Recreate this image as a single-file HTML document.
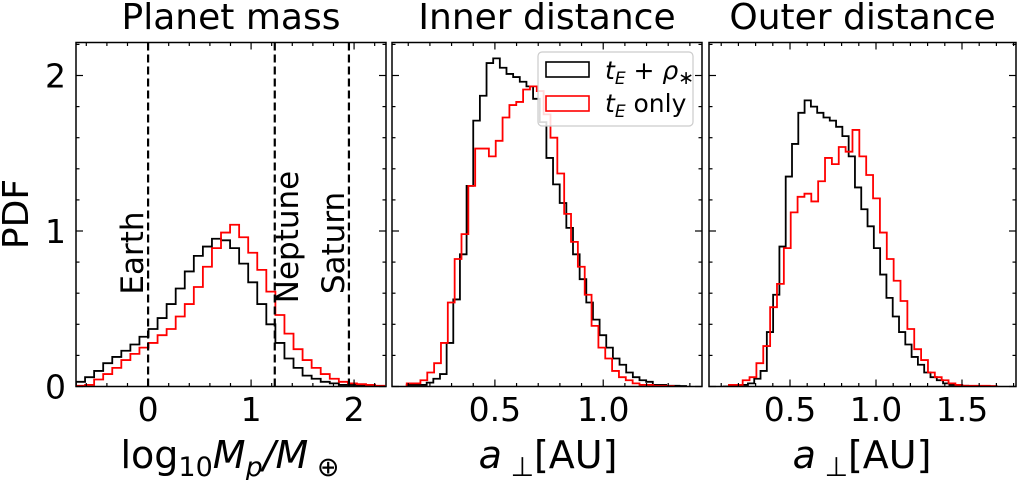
<!DOCTYPE html>
<html><head><meta charset="utf-8"><style>
html,body{margin:0;padding:0;background:#fff;}
svg{display:block;font-family:"DejaVu Sans","Liberation Sans",sans-serif;}
</style></head><body>
<svg id="fig" width="1021" height="480" viewBox="0 0 1021 480" xmlns="http://www.w3.org/2000/svg"></svg>
<script>
// ---- data ----
const massStart = -0.70, massWidth = 0.088;
const massRedStart = -0.70, massRedWidth = 0.088;
const massBlack = [0.03,0.06,0.10,0.15,0.19,0.23,0.27,0.32,0.37,0.44,0.53,0.63,0.74,0.84,0.90,0.95,0.94,0.89,0.79,0.67,0.53,0.40,0.28,0.18,0.12,0.07,0.05,0.03,0.02,0.01,0.01,0.005,0.005,0.003];
const massRed = [0.005,0.01,0.045,0.08,0.12,0.17,0.21,0.25,0.28,0.33,0.37,0.45,0.53,0.64,0.77,0.89,0.99,1.04,0.96,0.86,0.75,0.61,0.46,0.34,0.24,0.17,0.12,0.08,0.05,0.03,0.02,0.015,0.01,0.005];
const innerStart = 0.093, innerWidth = 0.0307;
const innerRedStart = 0.093, innerRedWidth = 0.0316;
const innerBlack = [0.01,0.01,0.01,0.025,0.05,0.08,0.28,0.56,0.85,1.29,1.71,1.87,2.08,2.11,2.05,2.01,1.99,1.96,1.93,1.85,1.70,1.47,1.30,1.18,1.02,0.85,0.69,0.54,0.43,0.33,0.25,0.18,0.14,0.09,0.06,0.04,0.03,0.01,0.01,0.005,0.005,0.003];
const innerRed = [0.02,0.02,0.04,0.09,0.15,0.28,0.54,0.82,0.98,1.29,1.53,1.53,1.48,1.58,1.73,1.81,1.83,1.91,1.93,1.90,1.75,1.60,1.37,1.11,0.93,0.77,0.59,0.39,0.25,0.18,0.10,0.06,0.04,0.02,0.01,0.01,0.005,0.005,0.003];
const outerStart = 0.109, outerWidth = 0.0366;
const outerRedStart = 0.145, outerRedWidth = 0.0399;
const outerBlack = [0,0.005,0.005,0.01,0.02,0.05,0.10,0.35,0.59,0.90,1.35,1.56,1.76,1.84,1.80,1.76,1.73,1.71,1.67,1.61,1.48,1.28,1.14,1.03,0.89,0.72,0.57,0.45,0.35,0.27,0.19,0.14,0.09,0.06,0.04,0.02,0.01,0.005,0.005];
const outerRed = [0.01,0.01,0.04,0.06,0.15,0.26,0.51,0.66,0.89,1.12,1.22,1.24,1.19,1.32,1.47,1.43,1.54,1.51,1.65,1.48,1.36,1.21,0.99,0.82,0.68,0.55,0.37,0.24,0.17,0.09,0.06,0.04,0.02,0.01,0.005,0.005,0.005,0.005,0.003];
const yTicks = [0,1,2];
const massTicks = [0,1,2];
const innerTicks = [0.5,1.0];
const outerTicks = [0.5,1.0,1.5];
const refNames = ["Earth","Neptune","Saturn"];
const refValues = [0,1.23,1.95];

const NS = "http://www.w3.org/2000/svg";
const svgRoot = document.getElementById('fig');
function mk(tag, attrs, parent){ const e=document.createElementNS(NS,tag); for(const k in attrs) e.setAttribute(k,attrs[k]); (parent||svgRoot).appendChild(e); return e; }

const axTop=42.5, axBottom=386.5, yMax=(axBottom-axTop)/155.5;
function yS(v){ return axBottom - v*155.5; }

function panel(name, x0, x1, xmin, xmax, minorStep, majorTicks, tickFmt, title, start, width, black, rStart, rWidth, red){
  const g = mk('g',{});
  
  
  const xS = v => x0 + (v-xmin)/(xmax-xmin)*(x1-x0);
  const clipId = 'clip-'+name;
  const cp = mk('clipPath',{id:clipId},g); mk('rect',{x:x0,y:axTop,width:x1-x0,height:axBottom-axTop},cp);
  function hist(vals, st, w, color, sname){
    let d = 'M'+xS(st)+','+yS(0);
    vals.forEach((v,i)=>{ const a=xS(st+i*w), b=xS(st+(i+1)*w); d+=' L'+a+','+yS(v)+' L'+b+','+yS(v); });
    d += ' L'+xS(st+vals.length*w)+','+yS(0);
    const p = mk('path',{d:d,fill:'none',stroke:color,'stroke-width':1.8,'clip-path':'url(#'+clipId+')'},g);
    
    
  }
  hist(black,start,width,'#000','tE-rho');
  hist(red,rStart,rWidth,'#ff0000','tE-only');
  const fr = mk('rect',{x:x0,y:axTop,width:x1-x0,height:axBottom-axTop,fill:'none',stroke:'#000','stroke-width':1.5},g);
  
  
  const first = Math.ceil(xmin/minorStep-1e-6);
  for(let k=first; k*minorStep<=xmax+1e-9; k++){
    const v=k*minorStep, x=xS(v);
    const isMajor = majorTicks.some(m=>Math.abs(m-v)<1e-6);
    const L = isMajor?7:3.5;
    mk('line',{x1:x,x2:x,y1:axBottom,y2:axBottom-L,stroke:'#000','stroke-width':1.2},g);
    mk('line',{x1:x,x2:x,y1:axTop,y2:axTop+L,stroke:'#000','stroke-width':1.2},g);
  }
  majorTicks.forEach(v=>{
    const t = mk('text',{x:xS(v),y:421,'font-size':33,'text-anchor':'middle'},g);
    t.textContent = tickFmt(v);
    
    
  });
  for(let k=0; k*0.2<=yMax+1e-9; k++){
    const v=k*0.2, y=yS(v);
    const isMajor = Math.abs(v-Math.round(v))<1e-6;
    const L = isMajor?7:3.5;
    mk('line',{x1:x0,x2:x0+L,y1:y,y2:y,stroke:'#000','stroke-width':1.2},g);
    mk('line',{x1:x1,x2:x1-L,y1:y,y2:y,stroke:'#000','stroke-width':1.2},g);
  }
  const tt = mk('text',{x:(x0+x1)/2,y:29,'font-size':36,'text-anchor':'middle'},g);
  tt.textContent = title;
  
  
  return xS;
}

const xMass = panel('planet-mass',76,386,-0.70,2.31,0.2,massTicks,v=>String(v),'Planet mass',massStart,massWidth,massBlack,massRedStart,massRedWidth,massRed);
panel('inner-distance',392,702,0.025,1.456,0.1,innerTicks,v=>v.toFixed(1),'Inner distance',innerStart,innerWidth,innerBlack,innerRedStart,innerRedWidth,innerRed);
panel('outer-distance',709,1016,0.029,1.814,0.1,outerTicks,v=>v.toFixed(1),'Outer distance',outerStart,outerWidth,outerBlack,outerRedStart,outerRedWidth,outerRed);

refValues.forEach((v,i)=>{
  const x = xMass(v);
  const l = mk('line',{x1:x,x2:x,y1:axTop,y2:axBottom,stroke:'#000','stroke-width':2.2,'stroke-dasharray':'8,4'});
  
  
  const ly = refNames[i]==='Earth'?253:(refNames[i]==='Neptune'?237:243);
  const tx = refNames[i]==='Neptune' ? x+23 : x-5;
  const t = mk('text',{x:0,y:0,'font-size':31,'text-anchor':'middle',transform:'translate('+tx+','+ly+') rotate(-90)'});
  t.textContent = refNames[i];
  
  
});

yTicks.forEach(v=>{
  const t = mk('text',{x:66,y:yS(v)+12,'font-size':33,'text-anchor':'end'});
  t.textContent = String(v);
  
  
});
</script>
<script>
(function(){
  const s=document.getElementById('fig');
  s.insertAdjacentHTML('beforeend',
  '<text transform="translate(28,214) rotate(-90)" font-size="36" text-anchor="middle">PDF</text>'+
  '<text x="230" y="468" font-size="38" text-anchor="middle">log<tspan font-size="27" dy="8">10</tspan><tspan dy="-8" font-style="italic">M</tspan><tspan font-size="27" dy="8" font-style="italic">p</tspan><tspan dy="-8" font-style="italic">/M</tspan><tspan font-size="27" dy="8"> ⊕</tspan></text>'+
  '<text x="548" y="468" font-size="38" text-anchor="middle"><tspan font-style="italic">a</tspan><tspan font-size="27" dy="8"> ⊥</tspan><tspan dy="-8">[AU]</tspan></text>'+
  '<text x="862" y="468" font-size="38" text-anchor="middle"><tspan font-style="italic">a</tspan><tspan font-size="27" dy="8"> ⊥</tspan><tspan dy="-8">[AU]</tspan></text>'+
  '<g>'+
  '<rect x="538" y="52" width="155" height="74" rx="4" fill="#fff" fill-opacity="0.85" stroke="#ccc" stroke-width="1.2"/>'+
  '<rect x="546" y="62" width="43" height="15" fill="none" stroke="#000" stroke-width="1.6"/>'+
  '<rect x="546" y="96" width="43" height="15" fill="none" stroke="#f00" stroke-width="1.6"/>'+
  '<text x="605" y="79" font-size="25"><tspan font-style="italic">t</tspan><tspan font-size="17" dy="5" font-style="italic">E</tspan><tspan dy="-5"> + </tspan><tspan font-style="italic">ρ</tspan><tspan font-size="19" dy="5">∗</tspan></text>'+
  '<text x="605" y="112" font-size="25"><tspan font-style="italic">t</tspan><tspan font-size="17" dy="5" font-style="italic">E</tspan><tspan dy="-5"> only</tspan></text>'+
  '</g>');
})();
</script>
</body></html>
